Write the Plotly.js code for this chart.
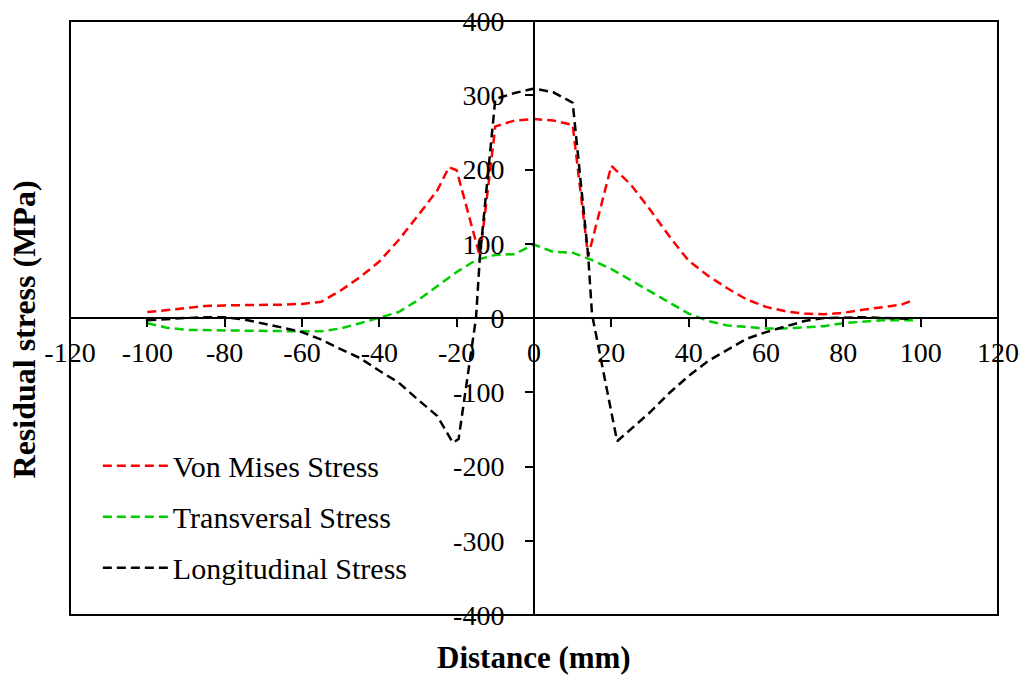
<!DOCTYPE html>
<html>
<head>
<meta charset="utf-8">
<script src="https://cdn.plot.ly/plotly-3.0.1.min.js"></script>
<style>
  html, body { margin: 0; padding: 0; background: #ffffff; }
  #chart { width: 1027px; height: 675px; }
</style>
</head>
<body>
<div id="chart"></div>
<script>
// Distance (mm) and residual stress (MPa)
var vonMisesX = [-100,-95,-90,-85,-80,-75,-70,-65,-60,-55,-50,-45,-40,-35,-30,-25,-22,-20,-14,-10,-5,0,5,10,14,20,25,30,35,40,45,50,55,60,65,70,75,80,85,90,95,98];
var vonMisesY = [8,11,14,16,17,17,17,18,19,22,37,55,76,105,138,172,203,199,83,258,266,268,266,260,83,205,180,146,110,77,57,40,25,15,9,6,5,7,11,15,18,24];

var transX = [-100,-95,-90,-80,-70,-60,-55,-50,-45,-40,-35,-30,-25,-20,-15,-10,-5,0,5,10,15,20,25,30,35,40,45,50,55,60,65,70,75,80,85,90,95,98];
var transY = [-7,-13,-16,-17,-18,-18,-18,-14,-7,0,8,24,43,62,78,85,86,99,89,88,78,66,51,36,21,6,-4,-10,-12,-14,-14,-12,-11,-7,-5,-3,-3,-3];

var longX = [-100,-95,-90,-85,-80,-75,-70,-65,-60,-55,-50,-45,-40,-35,-30,-25,-21,-19.5,-15,-14,-10,-5,0,5,10,14,15,21.5,25,30,35,40,45,50,55,60,65,70,75,80,85,90,95,98];
var longY = [-3,-1,0,1,1,-2,-7,-13,-19,-29,-42,-54,-71,-87,-110,-132,-168,-163,0,82,295,303,309,304,290,85,5,-166,-150,-127,-101,-78,-58,-43,-28,-19,-12,-4,0,1,1,0,-1,-1];

var seriesNames = ['Von Mises Stress', 'Transversal Stress', 'Longitudinal Stress'];
var seriesColors = ['#ff0000', '#00cc00', '#000000'];

var xTicks = [-120,-100,-80,-60,-40,-20,0,20,40,60,80,100,120];
var yTicks = [-400,-300,-200,-100,0,100,200,300,400];

var FONT = 'Liberation Serif, Times New Roman, serif';

function mk(x, y, i) {
  return {
    x: x, y: y, type: 'scatter', mode: 'lines',
    name: seriesNames[i], legendgroup: 'g' + i,
    line: { color: seriesColors[i], width: 2.5, dash: '9px,5px' }
  };
}

var data = [mk(vonMisesX, vonMisesY, 0), mk(transX, transY, 1), mk(longX, longY, 2)];

var layout = {
  width: 1027, height: 675,
  margin: { l: 70, r: 29, t: 21, b: 60 },
  paper_bgcolor: '#ffffff', plot_bgcolor: '#ffffff',
  font: { family: FONT, size: 29, color: '#000000' },
  showlegend: true,
  legend: {
    x: 0.03, y: 0.295, xanchor: 'left', yanchor: 'top',
    bgcolor: 'rgba(0,0,0,0)', borderwidth: 0,
    font: { family: FONT, size: 30, color: '#000000' },
    itemwidth: 65, tracegroupgap: 9
  },
  xaxis: {
    range: [-120, 120], tickvals: xTicks, ticktext: xTicks.map(String),
    anchor: 'free', position: 0.5,
    showline: true, linecolor: '#000', linewidth: 2,
    ticks: 'outside', ticklen: 8, tickwidth: 2, tickcolor: '#000',
    ticklabelstandoff: 1,
    showgrid: false, zeroline: false,
    tickfont: { family: FONT, size: 28, color: '#000' }
  },
  yaxis: {
    range: [-400, 400], tickvals: yTicks, ticktext: yTicks.map(String),
    anchor: 'free', position: 0.5,
    showline: true, linecolor: '#000', linewidth: 2,
    ticks: 'outside', ticklen: 8, tickwidth: 2, tickcolor: '#000',
    ticklabelstandoff: 15,
    showgrid: false, zeroline: false,
    tickfont: { family: FONT, size: 28, color: '#000' }
  },
  shapes: [{
    type: 'rect', xref: 'paper', yref: 'paper', x0: 0, x1: 1, y0: 0, y1: 1,
    line: { color: '#000', width: 2 }, layer: 'below'
  }],
  annotations: [
    { text: '<b>Distance (mm)</b>', xref: 'paper', yref: 'paper', x: 0.5, y: -0.072,
      xanchor: 'center', yanchor: 'middle', showarrow: false,
      font: { family: FONT, size: 31, color: '#000' } },
    { text: '<b>Residual stress (MPa)</b>', xref: 'paper', yref: 'paper', x: -0.05, y: 0.48,
      xanchor: 'center', yanchor: 'middle', showarrow: false, textangle: -90,
      font: { family: FONT, size: 32, color: '#000' } }
  ]
};

Plotly.newPlot('chart', data, layout, { displayModeBar: false, staticPlot: true });
</script>
</body>
</html>
